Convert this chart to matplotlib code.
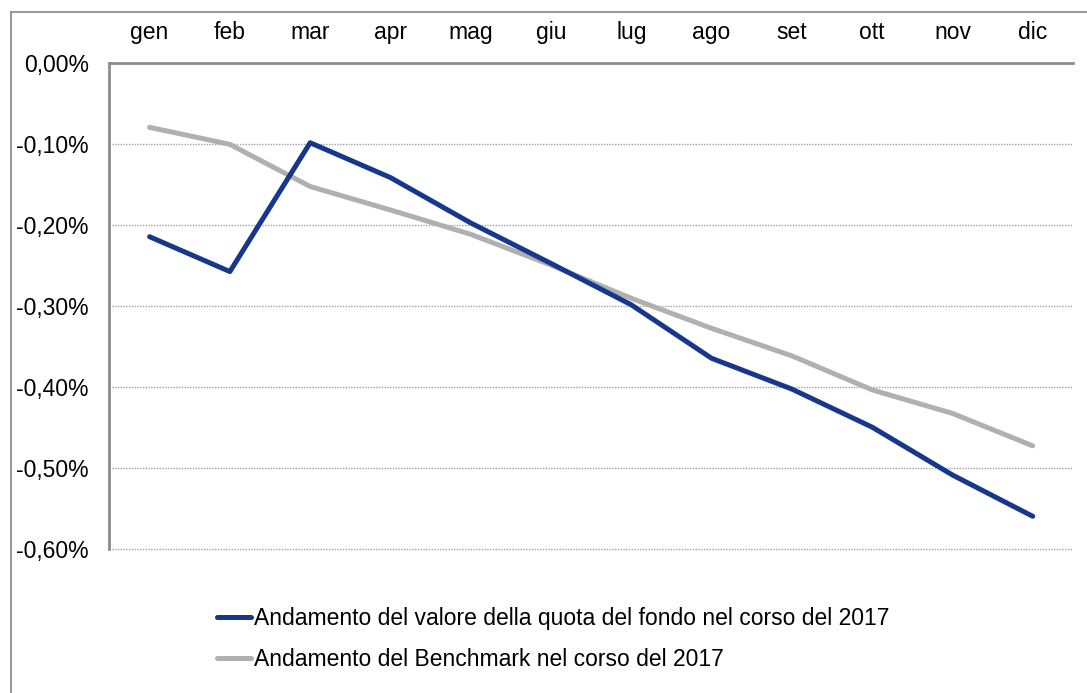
import matplotlib
matplotlib.use("Agg")
import matplotlib.pyplot as plt
from matplotlib.patches import Rectangle
from matplotlib.ticker import FuncFormatter

# dati
mesi = ["gen", "feb", "mar", "apr", "mag", "giu", "lug", "ago", "set", "ott", "nov", "dic"]
fondo = [-0.215, -0.258, -0.099, -0.142, -0.198, -0.248, -0.299, -0.365, -0.403, -0.450, -0.509, -0.560]
benchmark = [-0.080, -0.101, -0.153, -0.182, -0.212, -0.250, -0.291, -0.328, -0.362, -0.404, -0.433, -0.473]
etichette = ["Andamento del valore della quota del fondo nel corso del 2017",
             "Andamento del Benchmark nel corso del 2017"]
yticks = [0.0, -0.1, -0.2, -0.3, -0.4, -0.5, -0.6]

plt.rcParams['font.family'] = ['Liberation Sans Narrow', 'Liberation Sans', 'DejaVu Sans']
fs = 16.5

fig = plt.figure(figsize=(10.87, 6.93), dpi=100)
ax = fig.add_axes([0.1007, 0.2082, 0.8863, 0.7016])

x = range(len(mesi))
ax.plot(x, fondo, color="#17378c", lw=3.6, solid_capstyle="round", label=etichette[0], zorder=3)
ax.plot(x, benchmark, color="#b0b0b0", lw=3.6, solid_capstyle="round", label=etichette[1], zorder=2)

ax.set_xlim(-0.5, len(mesi) - 0.5)
ax.set_ylim(-0.6, 0.0)
ax.set_yticks(yticks)
ax.yaxis.set_major_formatter(FuncFormatter(lambda v, p: f"{v:.2f}%".replace(".", ",")))
ax.set_xticks(list(x))
ax.set_xticklabels(mesi)
ax.xaxis.tick_top()
ax.tick_params(axis="x", length=0, pad=13, labelsize=fs)
ax.tick_params(axis="y", length=0, pad=15, labelsize=fs)

# griglia tratteggiata
for v in yticks[1:]:
    ax.axhline(v, color="#a0a0a0", lw=1, ls=(0, (1, 1)), zorder=1, clip_on=False)

for s in ["right", "bottom"]:
    ax.spines[s].set_visible(False)
for s in ["top", "left"]:
    ax.spines[s].set_color("#8c8c8c")
    ax.spines[s].set_linewidth(2)

# cornice esterna
fig.patches.append(Rectangle((11 / 1087, -0.1), 1.2, 1 - 12.5 / 693 + 0.1,
                             transform=fig.transFigure, fill=False,
                             edgecolor="#999999", lw=1.5))

fig.legend(loc="upper left", bbox_to_anchor=(217 / 1087, 1 - 607 / 693),
           frameon=False, fontsize=fs, handlelength=1.5, handletextpad=0.1,
           labelspacing=0.8, borderpad=0, borderaxespad=0)

fig.savefig("out.png", dpi=100)
